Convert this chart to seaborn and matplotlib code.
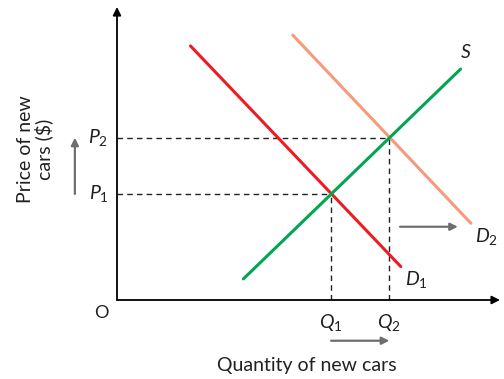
import numpy as np
import matplotlib
matplotlib.use('Agg')
import matplotlib.pyplot as plt
import seaborn as sns

# curve end points (quantity, price) in chart units
d1_q = [1.92, 7.41]
d1_p = [8.67, 1.14]
d2_q = [4.59, 9.24]
d2_p = [9.04, 2.62]
s_q = [3.30, 8.97]
s_p = [0.72, 7.88]

# equilibrium values
q_vals = [5.59, 7.11]
p_vals = [3.62, 5.54]
q_labels = ['$Q_1$', '$Q_2$']
p_labels = ['$P_1$', '$P_2$']

red = '#ed1c24'
salmon = '#f59a7c'
green = '#00a651'
grey = '#6d6e70'
ink = '#231f20'

sns.set_theme(style='white')
plt.rcParams['font.family'] = ['Lato', 'DejaVu Sans']
plt.rcParams['mathtext.fontset'] = 'custom'
plt.rcParams['mathtext.it'] = 'Lato:italic'
plt.rcParams['mathtext.rm'] = 'Lato'

fig = plt.figure(figsize=(5.04, 3.79), dpi=100)
ax = fig.add_axes([117 / 504, 79 / 379, 383 / 504, 293 / 379])
ax.set_xlim(0, 10)
ax.set_ylim(0, 10)
ax.axis('off')

# axes with arrow heads
ax_arrow = dict(arrowstyle='-|>', color='black', lw=1.3, mutation_scale=12,
                shrinkA=0, shrinkB=0)
ax.annotate('', xy=(10, 0), xytext=(0, 0), arrowprops=ax_arrow, annotation_clip=False)
ax.annotate('', xy=(0, 10), xytext=(0, 0), arrowprops=ax_arrow, annotation_clip=False)

# dashed guides
for q, p in zip(q_vals, p_vals):
    ax.plot([0, q], [p, p], color='#222222', lw=1, ls=(0, (4, 3)))
    ax.plot([q, q], [0, p], color='#222222', lw=1, ls=(0, (4, 3)))

sns.lineplot(x=d1_q, y=d1_p, color=red, lw=2.2, estimator=None, ax=ax)
sns.lineplot(x=d2_q, y=d2_p, color=salmon, lw=2.2, estimator=None, ax=ax)
sns.lineplot(x=s_q, y=s_p, color=green, lw=2.2, estimator=None, ax=ax)

fs = 14
ax.text(s_q[1] + 0.14, s_p[1] + 0.58, '$S$', fontsize=fs, ha='center', va='center', color=ink)
ax.text(d1_q[1] + 0.1, d1_p[1] - 0.45, '$D_1$', fontsize=fs, ha='left', va='center', color=ink)
ax.text(d2_q[1] + 0.12, d2_p[1] - 0.45, '$D_2$', fontsize=fs, ha='left', va='center', color=ink)

for q, lab in zip(q_vals, q_labels):
    ax.text(q, -0.78, lab, fontsize=fs, ha='center', va='center', color=ink, clip_on=False)
for p, lab in zip(p_vals, p_labels):
    ax.text(-0.22, p, lab, fontsize=fs, ha='right', va='center', color=ink)
ax.text(-0.42, -0.44, 'O', fontsize=13, ha='center', va='center', color=ink)

# shift arrows
arrow = dict(arrowstyle='-|>', color=grey, lw=1.6, mutation_scale=11,
             shrinkA=0, shrinkB=0)
ax.annotate('', xy=(-1.1, p_vals[1]), xytext=(-1.1, p_vals[0]), arrowprops=arrow,
            annotation_clip=False)
ax.annotate('', xy=(q_vals[1], -1.39), xytext=(q_vals[0], -1.39), arrowprops=arrow,
            annotation_clip=False)
ax.annotate('', xy=(8.9, 2.5), xytext=(7.39, 2.5), arrowprops=arrow)

ax.text(4.96, -2.22, 'Quantity of new cars', fontsize=14, ha='center', va='center',
        color=ink)
ax.text(-2.14, 5.15, 'Price of new\ncars ($)', fontsize=14, ha='center', va='center',
        rotation=90, linespacing=1.05, color=ink)

fig.savefig('out.png', dpi=100)
